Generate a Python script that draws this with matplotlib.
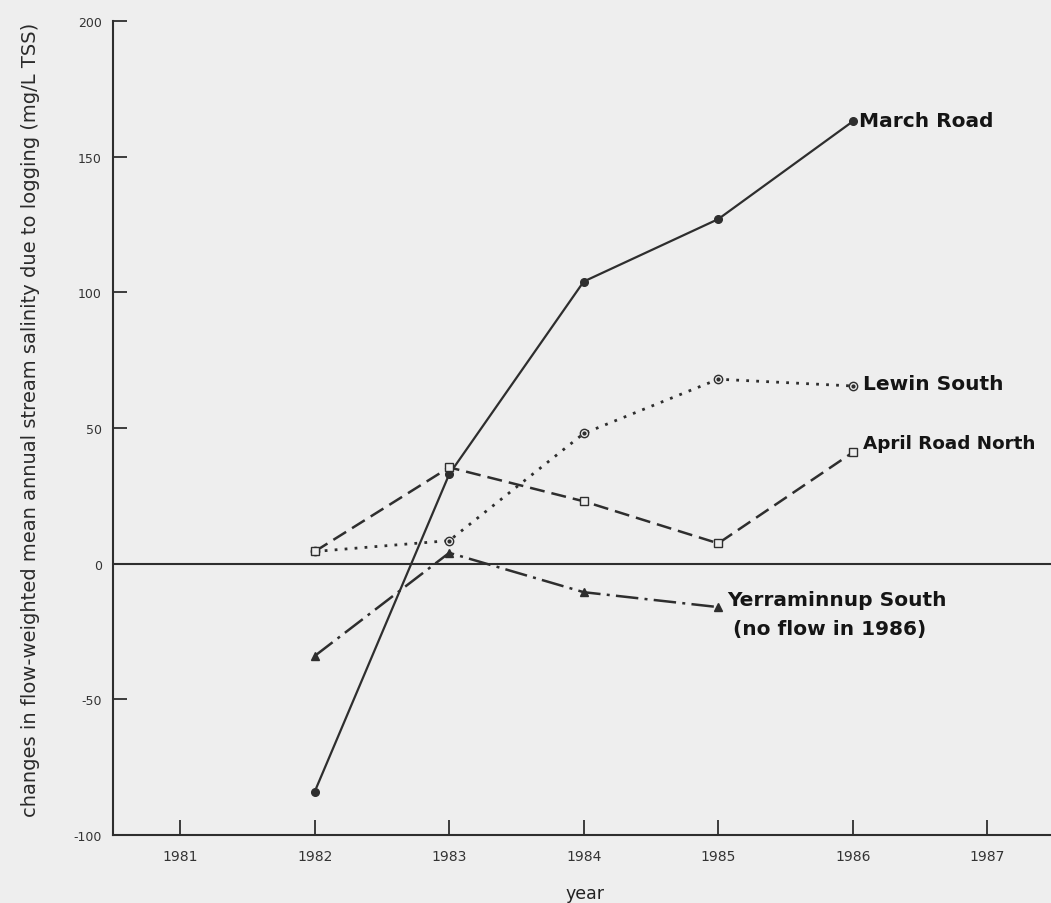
import matplotlib.pyplot as plt

# annual change in flow-weighted mean stream salinity per catchment (mg/L TSS)
years = [1982, 1983, 1984, 1985, 1986]
march_road = [-84, 33, 104, 127, 163]
lewin_south = [4.5, 8.5, 48, 68, 65.5]
april_road_north = [4.5, 35.5, 23, 7.5, 41]
yerra_years = [1982, 1983, 1984, 1985]
yerraminnup_south = [-34, 4, -10.5, -16]

year_ticks = [1981, 1982, 1983, 1984, 1985, 1986, 1987]
salinity_ticks = [-100, -50, 0, 50, 100, 150, 200]

ink = "#2e2e2e"
text_ink = "#151515"
paper = "#eeeeee"

plt.rcParams["font.family"] = ["DejaVu Sans"]
plt.rcParams["axes.unicode_minus"] = False

fig = plt.figure(figsize=(10.51, 9.04), dpi=100, facecolor=paper)
ax = fig.add_axes([0.1075, 0.0752, 0.8958, 0.9004], facecolor=paper)

# March Road: solid line, filled dots
ax.plot(years, march_road, "-", color=ink, lw=1.6, marker="o", ms=5.5,
        mfc=ink, mec=ink)

# Lewin South: dotted line, open circles with a centre dot
ax.plot(years, lewin_south, color=ink, lw=2.0, linestyle=(0, (1, 2.6)),
        marker="o", ms=6, mfc=paper, mec=ink, mew=1.0)
ax.plot(years, lewin_south, linestyle="none", marker="o", ms=2, color=ink)

# April Road North: dashed line, open squares
ax.plot(years, april_road_north, color=ink, lw=1.8, linestyle=(0, (6, 2.8)),
        marker="s", ms=6, mfc=paper, mec=ink, mew=1.0)

# Yerraminnup South: dash-dot line, filled triangles
ax.plot(yerra_years, yerraminnup_south, color=ink, lw=1.8,
        linestyle=(0, (9, 2.5, 1.2, 2.5)), marker="^", ms=6, mfc=ink, mec=ink)

ax.axhline(0, color=ink, lw=1.5)

label_kw = dict(fontweight="bold", va="baseline", color=text_ink)
ax.text(1986.05, 161.5, "March Road", fontsize=14.5, **label_kw)
ax.text(1986.08, 64.5, "Lewin South", fontsize=14.5, **label_kw)
ax.text(1986.08, 42.5, "April Road North", fontsize=13.2, **label_kw)
ax.text(1985.07, -15.2, "Yerraminnup South", fontsize=14.5, **label_kw)
ax.text(1985.11, -25.8, "(no flow in 1986)", fontsize=14.5, **label_kw)

ax.set_xlim(1980.5, 1987.5)
ax.set_ylim(-100, 200)
ax.set_xticks(year_ticks)
ax.set_yticks(salinity_ticks)
ax.tick_params(axis="x", direction="in", length=11, width=1.3, colors=ink,
               labelsize=10, pad=10, labelcolor="#333333")
ax.tick_params(axis="y", direction="in", length=10, width=1.3, colors=ink,
               labelsize=9, pad=8, labelcolor="#333333")

for side in ("top", "right"):
    ax.spines[side].set_visible(False)
for side in ("left", "bottom"):
    ax.spines[side].set_color(ink)
    ax.spines[side].set_linewidth(1.5)

ax.set_xlabel("year", fontsize=12.5, color="#222222")
ax.xaxis.set_label_coords(0.501, -0.060)
ax.set_ylabel("changes in flow-weighted mean annual stream salinity due to logging (mg/L TSS)",
              fontsize=14, color="#2a2a2a")
ax.yaxis.set_label_coords(-0.077, 0.511)

fig.savefig("out.png", dpi=100, facecolor=paper)
